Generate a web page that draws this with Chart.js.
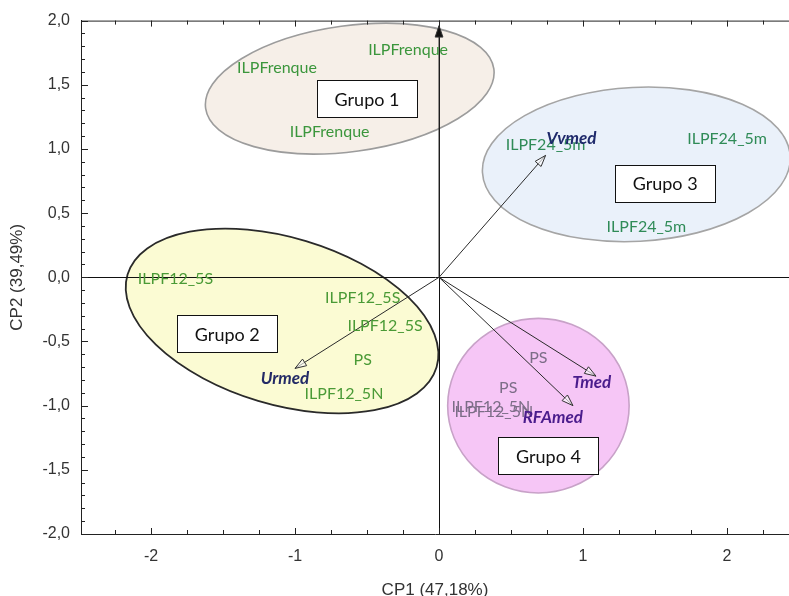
<!DOCTYPE html>
<html>
<head>
<meta charset="utf-8">
<script src="https://cdn.jsdelivr.net/npm/chart.js@4.4.0/dist/chart.umd.min.js"></script>
<style>
  html, body { margin: 0; padding: 0; background: #fff; }
  #wrap { width: 789px; height: 596px; }
</style>
</head>
<body>
<div id="wrap"><canvas id="pcaChart"></canvas></div>
<script>
// observations (scores on CP1 / CP2), label is drawn at the point
const obsNames = ['ILPFrenque', 'ILPFrenque', 'ILPFrenque', 'ILPF24_5m', 'ILPF24_5m', 'ILPF24_5m',
    'ILPF12_5S', 'ILPF12_5S', 'ILPF12_5S', 'PS', 'ILPF12_5N', 'PS', 'PS', 'ILPF12_5N', 'ILPF12_5N'];
const obsCP1 = [-0.215, -1.125, -0.76, 0.74, 2.0, 1.44, -1.83, -0.53, -0.375, -0.53, -0.66, 0.69, 0.48, 0.36, 0.38];
const obsCP2 = [1.77, 1.63, 1.13, 1.03, 1.08, 0.39, -0.01, -0.16, -0.38, -0.64, -0.91, -0.63, -0.86, -1.01, -1.05];
const obsGroup = [0, 0, 0, 2, 2, 2, 1, 1, 1, 1, 1, 3, 3, 3, 3];

// variable loadings (arrows from the origin)
const varNames = ['', 'Vvmed', 'Urmed', 'Tmed', 'RFAmed'];
const varCP1 = [0, 0.74, -1.0, 1.09, 0.93];
const varCP2 = [1.96, 0.95, -0.71, -0.77, -1.0];
const varLabelCP1 = [0, 0.92, -1.07, 1.06, 0.79];
const varLabelCP2 = [0, 1.08, -0.79, -0.82, -1.09];

// groups: ellipse centre / radii in axis units, tilt in degrees, label box centre
const groupNames = ['Grupo 1', 'Grupo 2', 'Grupo 3', 'Grupo 4'];
const groupCP1 = [-0.62, -1.09, 1.37, 0.69];
const groupCP2 = [1.47, -0.34, 0.88, -1.0];
const groupRadCP1 = [1.01, 1.12, 1.07, 0.63];
const groupRadCP2 = [0.49, 0.65, 0.60, 0.68];
const groupTilt = [-7.8, 16.7, -3, 0];
const groupBoxCP1 = [-0.5, -1.47, 1.57, 0.76];
const groupBoxCP2 = [1.39, -0.44, 0.73, -1.39];

// axis ticks
const xTickValues = [-2, -1, 0, 1, 2];
const yTickValues = [-2, -1.5, -1, -0.5, 0, 0.5, 1, 1.5, 2];

const groupStyle = {
    fill: ['#f6efe8', '#fbfbd3', '#eaf1fa', '#f6c6f6'],
    stroke: ['#9c9c9c', '#2a2a2a', '#a5a5a5', '#c8a2c8'],
    text: ['#3b963c', '#4a9a36', '#2f8b57', '#7c6d87']
};
const varColors = ['#111', '#1f2a6b', '#232a66', '#4a1c8c', '#4a1c8c'];

const ellipsePlugin = {
    id: 'groupEllipses',
    beforeDraw(chart) {
        const { ctx, chartArea, scales: { x, y } } = chart;
        const pxX = x.getPixelForValue(1) - x.getPixelForValue(0);
        const pxY = y.getPixelForValue(0) - y.getPixelForValue(1);
        ctx.save();
        ctx.beginPath();
        ctx.rect(chartArea.left, chartArea.top, chartArea.right - chartArea.left, chartArea.bottom - chartArea.top);
        ctx.clip();
        groupNames.forEach((g, i) => {
            ctx.beginPath();
            ctx.ellipse(x.getPixelForValue(groupCP1[i]), y.getPixelForValue(groupCP2[i]),
                groupRadCP1[i] * pxX, groupRadCP2[i] * pxY, groupTilt[i] * Math.PI / 180, 0, Math.PI * 2);
            ctx.fillStyle = groupStyle.fill[i];
            ctx.fill();
            ctx.lineWidth = i === 1 ? 1.8 : 1.6;
            ctx.strokeStyle = groupStyle.stroke[i];
            ctx.stroke();
        });
        ctx.restore();
    }
};

const annotatePlugin = {
    id: 'pcaAnnotations',
    afterDatasetsDraw(chart) {
        const { ctx, scales: { x, y } } = chart;
        ctx.save();

        // arrow heads
        varNames.forEach((v, i) => {
            const pts = chart.getDatasetMeta(i + 1).data;
            const x0 = pts[0].x, y0 = pts[0].y, x1 = pts[1].x, y1 = pts[1].y;
            const ang = Math.atan2(y1 - y0, x1 - x0);
            const len = 12, spread = 0.33;
            const ax = x1 - len * Math.cos(ang - spread), ay = y1 - len * Math.sin(ang - spread);
            const bx = x1 - len * Math.cos(ang + spread), by = y1 - len * Math.sin(ang + spread);
            ctx.beginPath();
            ctx.moveTo(ax, ay);
            ctx.lineTo(x1, y1);
            ctx.lineTo(bx, by);
            ctx.closePath();
            ctx.lineWidth = 1;
            ctx.strokeStyle = '#333';
            ctx.fillStyle = i === 0 ? '#111' : 'rgba(255,255,255,0.6)';
            ctx.fill();
            ctx.stroke();
        });

        // group boxes
        ctx.font = '18px Lato, "Open Sans", sans-serif';
        ctx.textAlign = 'center';
        ctx.textBaseline = 'middle';
        groupNames.forEach((g, i) => {
            const cx = x.getPixelForValue(groupBoxCP1[i]);
            const cy = y.getPixelForValue(groupBoxCP2[i]);
            const w = 100, h = 37;
            const bx = Math.round(cx - w / 2) + 0.5, by = Math.round(cy - h / 2) + 0.5;
            ctx.fillStyle = '#fff';
            ctx.fillRect(bx, by, w, h);
            ctx.strokeStyle = '#111';
            ctx.lineWidth = 1;
            ctx.strokeRect(bx, by, w, h);
            ctx.fillStyle = '#111';
            ctx.fillText(g, cx, cy + 1);
        });

        // observation labels
        const obsMeta = chart.getDatasetMeta(0).data;
        ctx.font = '16px Lato, "Open Sans", sans-serif';
        obsNames.forEach((n, i) => {
            ctx.fillStyle = groupStyle.text[obsGroup[i]];
            ctx.fillText(n, obsMeta[i].x, obsMeta[i].y);
        });

        // variable labels
        ctx.font = 'italic bold 17px Lato, "Open Sans", sans-serif';
        varNames.forEach((v, i) => {
            if (!v) return;
            ctx.fillStyle = varColors[i];
            ctx.fillText(v, x.getPixelForValue(varLabelCP1[i]), y.getPixelForValue(varLabelCP2[i]));
        });
        ctx.restore();
    },
    afterDraw(chart) {
        const { ctx, chartArea: a, scales: { x, y } } = chart;
        ctx.save();
        ctx.strokeStyle = '#222';
        ctx.lineWidth = 1;
        ctx.beginPath();
        ctx.moveTo(a.left, a.top + 0.5);
        ctx.lineTo(a.right, a.top + 0.5);
        // minor ticks on bottom and top, every 0.25
        for (let k = -10; k <= 10; k++) {
            const v = k * 0.25;
            if (v <= x.min || v >= x.max) continue;
            const px = Math.round(x.getPixelForValue(v)) + 0.5;
            const l = (k % 4 === 0) ? 6 : 4;
            ctx.moveTo(px, a.bottom);
            ctx.lineTo(px, a.bottom - l);
            ctx.moveTo(px, a.top);
            ctx.lineTo(px, a.top + l);
        }
        // minor ticks on left, every 0.1
        for (let k = -20; k <= 20; k++) {
            const py = Math.round(y.getPixelForValue(k / 10)) + 0.5;
            const l = (k % 5 === 0) ? 7 : 4;
            ctx.moveTo(a.left, py);
            ctx.lineTo(a.left + l, py);
        }
        ctx.stroke();
        ctx.restore();
    }
};

const origin = { x: 0, y: 0 };
const datasets = [{
    label: 'observações',
    data: obsCP1.map((v, i) => ({ x: v, y: obsCP2[i] })),
    pointRadius: 0,
    showLine: false
}];
varNames.forEach((v, i) => {
    datasets.push({
        label: v || 'CP2',
        data: [origin, { x: varCP1[i], y: varCP2[i] }],
        showLine: true,
        borderColor: '#2a2a2a',
        borderWidth: 1,
        pointRadius: 0,
        fill: false
    });
});

const tickFont = { family: '"Liberation Sans", Arial, sans-serif', size: 16 };
const axisColor = (ctx) => ctx.tick && ctx.tick.value === 0 ? '#111' : 'rgba(0,0,0,0)';

new Chart(document.getElementById('pcaChart').getContext('2d'), {
    type: 'scatter',
    data: { datasets: datasets },
    options: {
        responsive: true,
        maintainAspectRatio: false,
        animation: false,
        layout: { padding: { top: 20, right: 0, bottom: 0, left: 0 } },
        scales: {
            x: {
                type: 'linear',
                min: -2.486,
                max: 2.43,
                afterBuildTicks: (s) => { s.ticks = xTickValues.map(v => ({ value: v })); },
                afterFit: (s) => { s.height = 62; },
                ticks: {
                    padding: 13,
                    color: '#333',
                    font: tickFont,
                    callback: (v) => String(v)
                },
                grid: { color: axisColor, drawTicks: false, lineWidth: 1 },
                border: { display: true, color: '#222', width: 1 },
                title: {
                    display: true,
                    text: 'CP1 (47,18%)',
                    color: '#333',
                    font: { family: '"Liberation Sans", Arial, sans-serif', size: 17 },
                    padding: { top: 0, bottom: -5 }
                }
            },
            y: {
                type: 'linear',
                min: -2,
                max: 2,
                afterBuildTicks: (s) => { s.ticks = yTickValues.map(v => ({ value: v })); },
                afterFit: (s) => { s.width = 81; },
                ticks: {
                    padding: 11,
                    color: '#333',
                    font: tickFont,
                    callback: (v) => Number(v).toFixed(1).replace('.', ',')
                },
                grid: { color: axisColor, drawTicks: false, lineWidth: 1 },
                border: { display: true, color: '#222', width: 1 },
                title: {
                    display: true,
                    text: 'CP2 (39,49%)',
                    color: '#333',
                    font: { family: '"Liberation Sans", Arial, sans-serif', size: 17 },
                    padding: { top: 7, bottom: 0 }
                }
            }
        },
        plugins: {
            legend: { display: false },
            tooltip: { enabled: false },
            title: { display: false }
        }
    },
    plugins: [ellipsePlugin, annotatePlugin]
});
</script>
</body>
</html>
